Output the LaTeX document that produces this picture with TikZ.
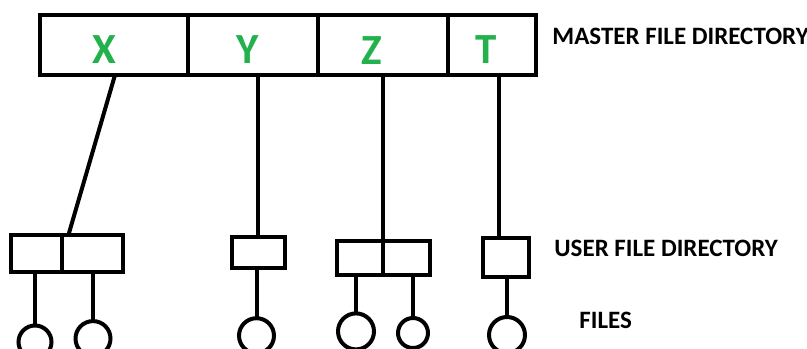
\documentclass[tikz,border=0pt]{standalone}
\usepackage{fontspec}
\setmainfont{Carlito}
\usepackage{xcolor}
\usetikzlibrary{positioning}
\definecolor{dirgreen}{RGB}{34,177,76}

\begin{document}
\begin{tikzpicture}[x=0.5pt, y=-0.5pt,
        cell/.style={draw, line width=2pt, rectangle, minimum height=30.25pt, inner sep=0pt, outer sep=0pt},
        letter/.style={text=dirgreen, font=\fontsize{21.5}{22}\selectfont\bfseries},
        ufd/.style={draw, line width=2pt, rectangle, inner sep=0pt, outer sep=0pt},
        file/.style={draw, line width=2pt, circle, inner sep=0pt, outer sep=0pt, minimum size=17.5pt},
        link/.style={line width=2pt},
        caption/.style={anchor=west, inner sep=0pt, font=\fontsize{12.5}{13}\selectfont\bfseries}
    ]
        \useasboundingbox (0,0) rectangle (807,348);
        % master file directory
        \node (mx) [cell, minimum width=74pt] at (114,44.75) {};
        \node (my) [cell, minimum width=65pt, right=0pt of mx] {};
        \node (mz) [cell, minimum width=64.75pt, right=0pt of my] {};
        \node (mt) [cell, minimum width=44pt, right=0pt of mz] {};
        \node (lx) [letter] at (104,50) {X};
        \node (ly) [letter] at (248,50) {Y};
        \node (lz) [letter] at (372,51) {Z};
        \node (lt) [letter] at (486,50) {T};
        % user file directories
        \node (uxa) [ufd, minimum width=25.5pt, minimum height=18.5pt] at (36,253.3) {};
        \node (uxb) [ufd, minimum width=30.5pt, minimum height=18.5pt, right=0pt of uxa] {};
        \node (uy) [ufd, minimum width=26.5pt, minimum height=15.5pt] at (258,252.9) {};
        \node (uza) [ufd, minimum width=23pt, minimum height=17pt] at (359.5,257.7) {};
        \node (uzb) [ufd, minimum width=23.5pt, minimum height=17pt, right=0pt of uza] {};
        \node (ut) [ufd, minimum width=23pt, minimum height=19.5pt] at (505.5,257.9) {};
        % files
        \node (fx1) [file, minimum size=16.5pt] at (35,342) {};
        \node (fx2) [file] at (93,338.6) {};
        \node (fy) [file] at (256.5,335.7) {};
        \node (fz1) [file, minimum size=18pt] at (356,331.4) {};
        \node (fz2) [file, minimum size=15pt] at (413,333) {};
        \node (ft) [file, minimum size=18pt] at (507,335) {};
        % captions
        \node (cmaster) [caption] at (552,36) {MASTER FILE DIRECTORY};
        \node (cuser) [caption] at (554,248) {USER FILE DIRECTORY};
        \node (cfiles) [caption] at (579,320) {FILES};
        % links
        \draw [link] ([xshift=0.5pt]mx.south) -- ([xshift=3.5pt]uxb.north west);
        \draw [link] (uy.north) -- (uy.north |- my.south);
        \draw [link] (uza.north east) -- (uza.north east |- mz.south);
        \draw [link] ([xshift=-3.5pt]ut.north) -- ([xshift=-3.5pt]ut.north |- mt.south);
        \draw [link] (fx1.north) -- (fx1.north |- uxa.south);
        \draw [link] (fx2.north) -- (fx2.north |- uxb.south);
        \draw [link] (fy.north) -- (fy.north |- uy.south);
        \draw [link] (fz1.north) -- (fz1.north |- uza.south);
        \draw [link] (fz2.north) -- (fz2.north |- uzb.south);
        \draw [link] (ft.north) -- (ft.north |- ut.south);
\end{tikzpicture}
\end{document}
